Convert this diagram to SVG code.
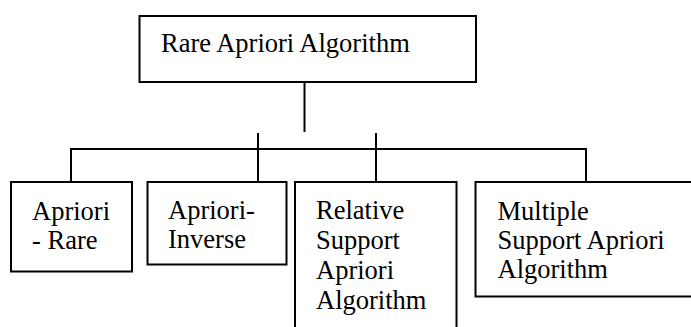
<svg xmlns="http://www.w3.org/2000/svg" width="691" height="327" viewBox="0 0 691 327">
  <style>
    .box { fill: #ffffff; stroke: #000000; stroke-width: 2; }
    .wire { fill: none; stroke: #000000; stroke-width: 2; }
    .label { font-family: "Liberation Serif", "Times New Roman", serif; font-size: 26.5px; fill: #000000; }
  </style>
  <rect width="691" height="327" fill="#ffffff"/>

  <!-- tree connectors -->
  <g id="connectors">
    <line class="wire" x1="304.5" y1="82" x2="304.5" y2="132"/>
    <line class="wire" x1="258" y1="133" x2="258" y2="182"/>
    <line class="wire" x1="376" y1="133" x2="376" y2="182"/>
    <polyline class="wire" points="71,182 71,149 586,149 586,182"/>
  </g>

  <g id="root">
    <rect class="box" x="139.5" y="16" width="336.5" height="66"/>
    <text class="label" x="161" y="52">Rare Apriori Algorithm</text>
  </g>

  <g id="apriori-rare">
    <rect class="box" x="11" y="182" width="121" height="89.5"/>
    <text class="label" x="32" y="220">Apriori</text>
    <text class="label" x="32" y="249">- Rare</text>
  </g>

  <g id="apriori-inverse">
    <rect class="box" x="147.5" y="182" width="139" height="82.5"/>
    <text class="label" x="168" y="219">Apriori-</text>
    <text class="label" x="168" y="248">Inverse</text>
  </g>

  <g id="relative-support">
    <rect class="box" x="295" y="182" width="161.5" height="160"/>
    <text class="label" x="316" y="219">Relative</text>
    <text class="label" x="316" y="249">Support</text>
    <text class="label" x="316" y="279">Apriori</text>
    <text class="label" x="316" y="309">Algorithm</text>
  </g>

  <g id="multiple-support">
    <rect class="box" x="475.5" y="182" width="230" height="114.5"/>
    <text class="label" x="497.5" y="220">Multiple</text>
    <text class="label" x="497.5" y="249">Support Apriori</text>
    <text class="label" x="497.5" y="278">Algorithm</text>
  </g>
</svg>
